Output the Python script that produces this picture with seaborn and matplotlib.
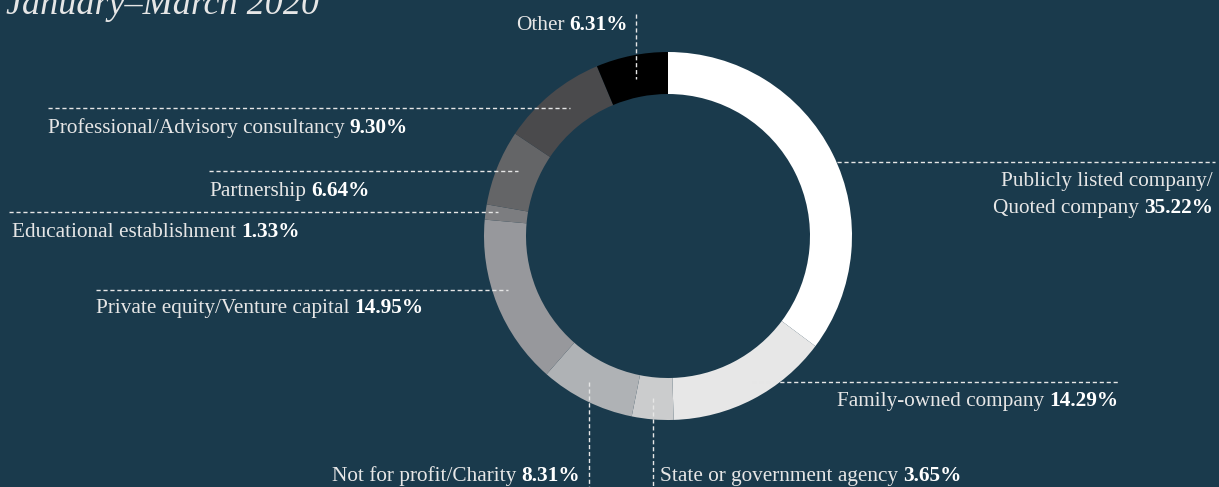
import matplotlib
matplotlib.use('Agg')
import matplotlib.pyplot as plt
import seaborn as sns

# ==============================
# Data
# ==============================

categories = [
    'Publicly listed company/\nQuoted company',
    'Family-owned company',
    'State or government agency',
    'Not for profit/Charity',
    'Private equity/Venture capital',
    'Educational establishment',
    'Partnership',
    'Professional/Advisory consultancy',
    'Other',
]
shares = [35.22, 14.29, 3.65, 8.31, 14.95, 1.33, 6.64, 9.30, 6.31]
title = 'January\u2013March 2020'

# ==============================
# Style
# ==============================

sns.set_theme(style='white')
plt.rcParams['font.family'] = ['Liberation Serif', 'DejaVu Serif']

bg = '#1a3a4c'
colors = ['#ffffff', '#e7e7e7', '#cbcccd', '#afb2b5', '#97989c',
          '#7c7d80', '#646567', '#4a4a4c', '#000000']
txt_color = '#e6e6e6'
fs = 15.3

# label anchor (x, baseline y, alignment) and leader line per category
label_pos = [
    (1213, 213, 'right'),
    (1118, 406, 'right'),
    (660, 481, 'left'),
    (580, 481, 'right'),
    (96, 313, 'left'),
    (12, 237, 'left'),
    (209, 196, 'left'),
    (48, 133, 'left'),
    (628, 30, 'right'),
]
leaders = [
    ((837, 1215), (162, 162)),
    ((752, 1120), (382, 382)),
    ((653, 653), (398, 487)),
    ((589, 589), (382, 487)),
    ((96, 508), (290, 290)),
    ((9, 498), (212, 212)),
    ((209, 518), (171, 171)),
    ((48, 570), (108, 108)),
    ((636, 636), (14, 79)),
]

# ==============================
# Plot
# ==============================

fig = plt.figure(figsize=(12.19, 4.87), dpi=100, facecolor=bg)
ax = fig.add_axes([0, 0, 1, 1])
ax.set_facecolor(bg)

ax.pie(shares, colors=colors, center=(668, 236), radius=184,
       startangle=-90, counterclock=True,
       wedgeprops=dict(width=42, linewidth=0))

ax.set_xlim(0, 1219)
ax.set_ylim(487, 0)
ax.set_aspect('equal')
ax.axis('off')

for (xs, ys) in leaders:
    ax.plot(xs, ys, color='#e6e6e6', lw=1, linestyle=(0, (3, 2)))

fig.canvas.draw()
renderer = fig.canvas.get_renderer()


def text_width(t):
    return t.get_window_extent(renderer).width


def label(x, y, name, pct, ha):
    lines = name.split('\n')
    for i, ln in enumerate(lines[:-1]):
        ax.text(x, y - (len(lines) - 1 - i) * 27, ln, ha=ha, va='baseline',
                fontsize=fs, color=txt_color)
    last = lines[-1]
    gap = 5
    if ha == 'left':
        t = ax.text(x, y, last, ha='left', va='baseline', fontsize=fs, color=txt_color)
        w = text_width(t)
        ax.text(x + w + gap, y, pct, ha='left', va='baseline', fontsize=fs,
                fontweight='bold', color='white')
    else:
        t = ax.text(x, y, pct, ha='right', va='baseline', fontsize=fs,
                    fontweight='bold', color='white')
        w = text_width(t)
        ax.text(x - w - gap, y, last, ha='right', va='baseline', fontsize=fs,
                color=txt_color)


for name, val, (x, y, ha) in zip(categories, shares, label_pos):
    label(x, y, name, f'{val:.2f}%', ha)

ax.text(6, 14, title, ha='left', va='baseline', fontsize=26, style='italic',
        color=txt_color)

fig.savefig('out.png', dpi=100, facecolor=bg)
